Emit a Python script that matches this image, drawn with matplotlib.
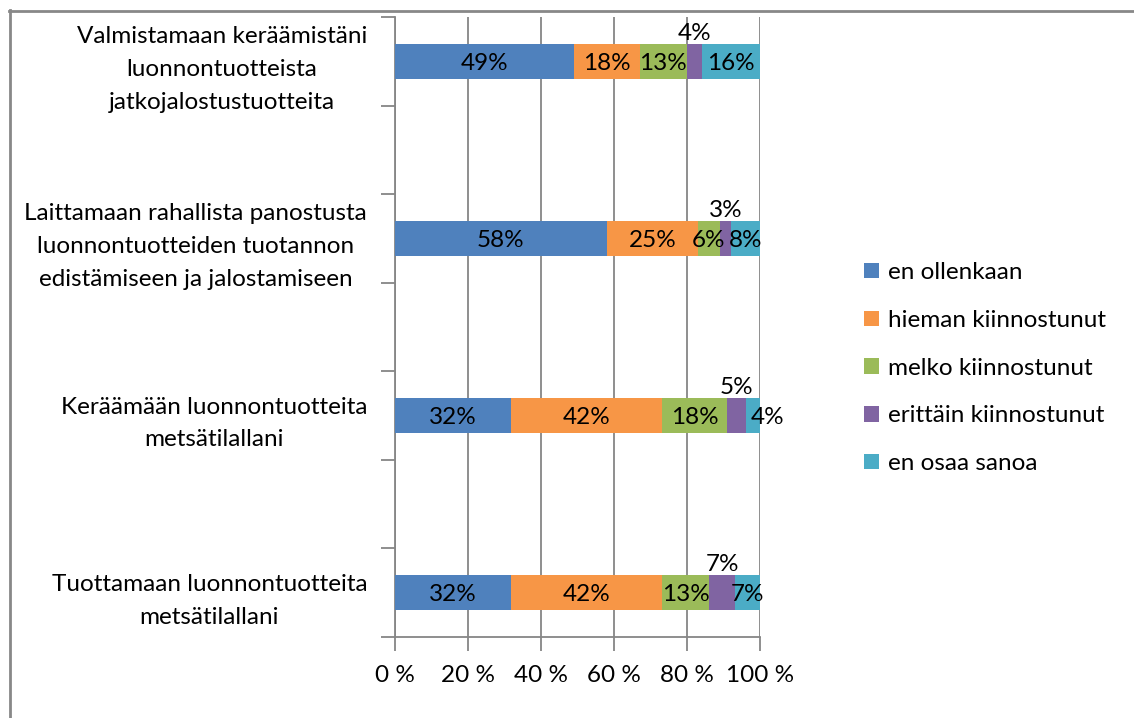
import numpy as np
import matplotlib
matplotlib.use("Agg")
import matplotlib.pyplot as plt
from matplotlib.lines import Line2D
from matplotlib.patches import Patch

plt.rcParams['font.family'] = ['Lato', 'DejaVu Sans']

# categories, top to bottom as in the chart
categories = [
    "Valmistamaan keräämistäni\nluonnontuotteista\njatkojalostustuotteita",
    "Laittamaan rahallista panostusta\nluonnontuotteiden tuotannon\nedistämiseen ja jalostamiseen",
    "Keräämään luonnontuotteita\nmetsätilallani",
    "Tuottamaan luonnontuotteita\nmetsätilallani",
]
series_names = ["en ollenkaan", "hieman kiinnostunut", "melko kiinnostunut",
                "erittäin kiinnostunut", "en osaa sanoa"]
en_ollenkaan = [49, 58, 32, 32]
hieman = [18, 25, 42, 42]
melko = [13, 6, 18, 13]
erittain = [4, 3, 5, 7]
en_osaa = [16, 8, 4, 7]
xtick_labels = ["0 %", "20 %", "40 %", "60 %", "80 %", "100 %"]

colors = ["#4F81BD", "#F79646", "#9BBB59", "#8064A2", "#4BACC6"]


def main():
    data = np.array([en_ollenkaan, hieman, melko, erittain, en_osaa], dtype=float)
    totals = data.sum(axis=0)
    shares = data / totals * 100

    fig = plt.figure(figsize=(11.34, 7.18), dpi=100)
    ax = fig.add_axes([395 / 1134, 1 - 637 / 718, 365 / 1134, 620 / 718])

    # bars sit on every second slot, the slots between are empty
    ypos = np.array([6, 4, 2, 0])
    left = np.zeros(len(categories))
    fs = 17.5
    for i in range(len(series_names)):
        ax.barh(ypos, shares[i], left=left, height=0.4, color=colors[i],
                label=series_names[i], zorder=3)
        for j in range(len(categories)):
            xc = left[j] + shares[i][j] / 2
            txt = "%d%%" % data[i][j]
            if i == 3:
                ax.text(xc, ypos[j] + 0.34, txt, ha='center', va='center_baseline',
                        fontsize=fs, zorder=4)
            else:
                if i == 4 and shares[i][j] < 6:
                    xc = xc + 4
                ax.text(xc, ypos[j], txt, ha='center', va='center_baseline',
                        fontsize=fs, zorder=4)
        left = left + shares[i]

    ax.set_xlim(0, 100)
    ax.set_ylim(-0.5, 6.5)
    ax.set_xticks(np.arange(0, 101, 20))
    ax.set_xticklabels(xtick_labels, fontsize=fs)
    ax.set_yticks(np.arange(-0.5, 6.6, 1))
    ax.set_yticklabels([])
    ax.set_yticks(ypos, minor=True)
    ax.set_yticklabels(categories, minor=True, fontsize=fs, multialignment='center',
                       linespacing=1.7)
    ax.tick_params(axis='y', which='minor', length=0, pad=20)
    ax.tick_params(axis='y', which='major', length=10, width=1.3, color='#868686')
    ax.tick_params(axis='x', length=10, width=1.3, color='#868686', pad=10)

    ax.grid(axis='x', color='#868686', linewidth=1.3, zorder=0)
    for s in ['top', 'right']:
        ax.spines[s].set_visible(False)
    for s in ['left', 'bottom']:
        ax.spines[s].set_color('#868686')
        ax.spines[s].set_linewidth(1.3)

    handles = [Patch(facecolor=c, edgecolor='none') for c in colors]
    fig.legend(handles, series_names, loc='upper left',
               bbox_to_anchor=(852 / 1134, 1 - 250 / 718), frameon=False,
               fontsize=fs, handlelength=0.6, handleheight=0.6,
               handletextpad=0.4, labelspacing=1.1, borderpad=0)

    # outer chart border
    fig.add_artist(Line2D([9 / 1134, 1], [1 - 10.5 / 718] * 2, color='#888888', linewidth=2))
    fig.add_artist(Line2D([9.5 / 1134] * 2, [0, 1 - 10 / 718], color='#888888', linewidth=2))

    fig.savefig("out.png", dpi=100, facecolor='white')


if __name__ == "__main__":
    main()
